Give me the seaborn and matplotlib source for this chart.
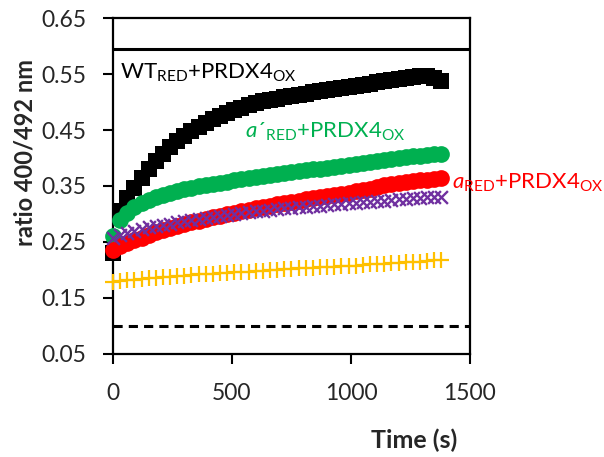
import numpy as np
import pandas as pd
import matplotlib
matplotlib.use("Agg")
import matplotlib.pyplot as plt
import seaborn as sns

# Sampling times (s)
time_s = list(range(0, 1381, 30))

wt_red = [0.230, 0.305, 0.328, 0.347, 0.365, 0.381, 0.395, 0.407, 0.419, 0.430,
          0.439, 0.448, 0.456, 0.463, 0.469, 0.475, 0.481, 0.486, 0.490, 0.494,
          0.498, 0.501, 0.504, 0.506, 0.509, 0.511, 0.513, 0.515, 0.517, 0.519,
          0.521, 0.523, 0.525, 0.527, 0.529, 0.531, 0.533, 0.535, 0.537, 0.539,
          0.541, 0.543, 0.545, 0.547, 0.546, 0.542, 0.537]

a_prime_red = [0.260, 0.289, 0.302, 0.312, 0.319, 0.325, 0.330, 0.334, 0.337, 0.341,
               0.344, 0.347, 0.350, 0.352, 0.354, 0.356, 0.358, 0.360, 0.362, 0.364,
               0.366, 0.368, 0.370, 0.372, 0.373, 0.375, 0.377, 0.378, 0.380, 0.381,
               0.383, 0.384, 0.386, 0.387, 0.389, 0.391, 0.393, 0.395, 0.397, 0.398,
               0.400, 0.401, 0.403, 0.404, 0.406, 0.407, 0.408]

a_red = [0.236, 0.242, 0.248, 0.253, 0.258, 0.263, 0.267, 0.271, 0.275, 0.278,
         0.282, 0.285, 0.288, 0.291, 0.294, 0.297, 0.300, 0.302, 0.305, 0.307,
         0.310, 0.312, 0.314, 0.318, 0.320, 0.322, 0.324, 0.326, 0.328, 0.330,
         0.332, 0.334, 0.336, 0.338, 0.341, 0.343, 0.345, 0.348, 0.351, 0.353,
         0.355, 0.357, 0.359, 0.360, 0.361, 0.363, 0.364]

purple_series = [0.258, 0.262, 0.266, 0.270, 0.273, 0.276, 0.279, 0.281, 0.283, 0.285,
                 0.287, 0.289, 0.291, 0.293, 0.295, 0.297, 0.299, 0.300, 0.302, 0.303,
                 0.305, 0.306, 0.307, 0.309, 0.310, 0.311, 0.312, 0.313, 0.314, 0.315,
                 0.316, 0.317, 0.318, 0.319, 0.320, 0.321, 0.322, 0.323, 0.324, 0.325,
                 0.326, 0.327, 0.328, 0.329, 0.330, 0.331, 0.331]

yellow_series = [0.178, 0.180, 0.182, 0.183, 0.184, 0.185, 0.186, 0.187, 0.188, 0.189,
                 0.190, 0.191, 0.192, 0.193, 0.193, 0.194, 0.195, 0.196, 0.197, 0.197,
                 0.198, 0.199, 0.200, 0.200, 0.201, 0.202, 0.203, 0.203, 0.204, 0.205,
                 0.206, 0.206, 0.207, 0.208, 0.208, 0.209, 0.210, 0.211, 0.211, 0.212,
                 0.213, 0.214, 0.214, 0.215, 0.216, 0.217, 0.218]

fully_oxidised = 0.595
fully_reduced = 0.10

x_ticks = [0, 500, 1000, 1500]
y_ticks = [0.05, 0.15, 0.25, 0.35, 0.45, 0.55, 0.65]

sns.set_theme(style="ticks")
plt.rcParams["font.family"] = ["Lato", "DejaVu Sans"]
plt.rcParams["mathtext.fontset"] = "custom"
plt.rcParams["mathtext.rm"] = "Lato"
plt.rcParams["mathtext.it"] = "Lato:italic"
plt.rcParams["mathtext.bf"] = "Lato:bold"

fig = plt.figure(figsize=(6.04, 4.57), dpi=100)
ax = fig.add_axes([0.187, 0.2254, 0.591, 0.7352])

# drawn back to front
series = [
    (wt_red, "#000000", "s", 120, 0),
    (a_prime_red, "#00B050", "o", 145, 0),
    (a_red, "#FF0000", "o", 145, 0),
    (yellow_series, "#FFC000", "+", 120, 1.6),
    (purple_series, "#7030A0", "x", 85, 1.7),
]
for values, color, marker, size, lw in series:
    df = pd.DataFrame({"time": time_s, "ratio": values})
    sns.scatterplot(data=df, x="time", y="ratio", ax=ax, color=color,
                    marker=marker, s=size, linewidth=lw,
                    edgecolor=color if lw == 0 else None,
                    zorder=3, clip_on=False)

ax.axhline(fully_oxidised, color="black", lw=2.2, zorder=2)
ax.axhline(fully_reduced, color="black", lw=2.2, ls=(0, (3, 2)), zorder=2)

ax.set_xlim(0, 1500)
ax.set_ylim(0.05, 0.65)
ax.set_xticks(x_ticks)
ax.set_yticks(y_ticks)
ax.set_yticklabels([f"{v:.2f}" for v in y_ticks])
ax.tick_params(axis="both", labelsize=16.5, width=1.5, length=7, direction="out",
               color="black")
ax.tick_params(axis="y", pad=12)
ax.tick_params(axis="x", pad=14)
for sp in ax.spines.values():
    sp.set_linewidth(1.6)
    sp.set_color("black")

ax.set_xlabel("Time (s)", fontsize=18, fontweight="bold")
ax.xaxis.label.set_horizontalalignment("right")
ax.xaxis.label.set_verticalalignment("center")
ax.xaxis.set_label_coords(0.964, -0.256)

ax.set_ylabel("ratio 400/492 nm", fontsize=17, fontweight="bold")
ax.yaxis.label.set_horizontalalignment("center")
ax.yaxis.label.set_verticalalignment("center")
ax.yaxis.set_label_coords(-0.246, 0.601)

ax.text(30, 0.552, r"WT$_{\mathregular{RED}}$+PRDX4$_{\mathregular{OX}}$",
        fontsize=16, color="black", va="center", ha="left")
ax.text(555, 0.447, r"$\mathit{a}$´$_{\mathregular{RED}}$+PRDX4$_{\mathregular{OX}}$",
        fontsize=16, color="#00B050", va="center", ha="left")
ax.text(1425, 0.355, r"$\mathit{a}_{\mathregular{RED}}$+PRDX4$_{\mathregular{OX}}$",
        fontsize=16, color="#FF0000", va="center", ha="left", clip_on=False)

fig.savefig("out.png", dpi=100)
